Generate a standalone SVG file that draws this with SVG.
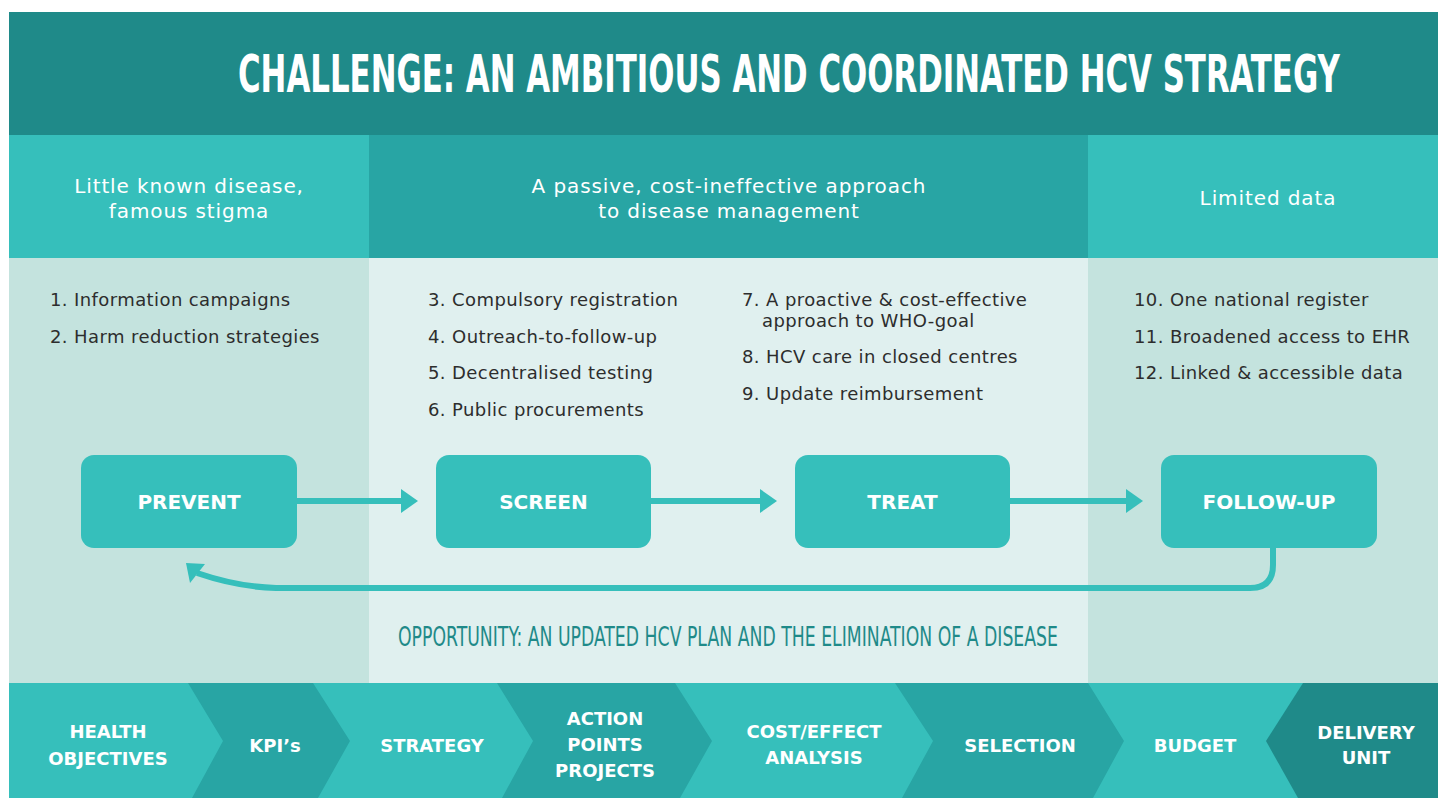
<svg xmlns="http://www.w3.org/2000/svg" width="1438" height="798" viewBox="0 0 1438 798">
<style>
.hdr{font-family:"DejaVu Sans",sans-serif;font-size:20px;fill:#ffffff;text-anchor:middle;letter-spacing:0.9px}
.item{font-family:"DejaVu Sans",sans-serif;font-size:18px;fill:#2d2d2d;letter-spacing:0.4px}
.box{fill:#36bfbb}
.blbl{font-family:"DejaVu Sans",sans-serif;font-weight:bold;font-size:20px;fill:#ffffff;text-anchor:middle}
.clbl{font-family:"DejaVu Sans",sans-serif;font-weight:bold;font-size:18px;fill:#ffffff;text-anchor:middle}
.conn{fill:none;stroke:#36bfbb;stroke-width:6}
.head{fill:#36bfbb}
</style>
<rect x="0" y="0" width="1438" height="798" fill="#ffffff"/>
<!-- title band -->
<g id="title">
<rect x="9" y="12" width="1429" height="123" fill="#1f8a89"/>
<text transform="translate(238,92) scale(0.7,1)" x="0" y="0" font-family="'DejaVu Sans Condensed','DejaVu Sans',sans-serif" font-stretch="condensed" font-weight="bold" font-size="51" fill="#ffffff" textLength="1574" lengthAdjust="spacingAndGlyphs">CHALLENGE: AN AMBITIOUS AND COORDINATED HCV STRATEGY</text>
</g>
<!-- header row -->
<g id="headers">
<rect x="9" y="135" width="360" height="123" fill="#36bfbb"/>
<rect x="369" y="135" width="719" height="123" fill="#28a5a4"/>
<rect x="1088" y="135" width="350" height="123" fill="#36bfbb"/>
<text class="hdr" x="189" y="193">Little known disease,</text>
<text class="hdr" x="189" y="218">famous stigma</text>
<text class="hdr" x="729" y="193">A passive, cost-ineffective approach</text>
<text class="hdr" x="729" y="218">to disease management</text>
<text class="hdr" x="1268" y="205">Limited data</text>
</g>
<!-- body columns -->
<g id="body">
<rect x="9" y="258" width="360" height="425" fill="#c4e3de"/>
<rect x="369" y="258" width="719" height="425" fill="#e0f0ef"/>
<rect x="1088" y="258" width="350" height="425" fill="#c4e3de"/>
</g>
<g id="list-prevent">
<text class="item" x="50" y="306">1. Information campaigns</text>
<text class="item" x="50" y="343">2. Harm reduction strategies</text>
</g>
<g id="list-screen">
<text class="item" x="428" y="306">3. Compulsory registration</text>
<text class="item" x="428" y="343">4. Outreach-to-follow-up</text>
<text class="item" x="428" y="379">5. Decentralised testing</text>
<text class="item" x="428" y="416">6. Public procurements</text>
</g>
<g id="list-treat">
<text class="item" x="742" y="306">7. A proactive &amp; cost-effective</text>
<text class="item" x="762" y="327">approach to WHO-goal</text>
<text class="item" x="742" y="363">8. HCV care in closed centres</text>
<text class="item" x="742" y="400">9. Update reimbursement</text>
</g>
<g id="list-followup">
<text class="item" x="1134" y="306">10. One national register</text>
<text class="item" x="1134" y="343">11. Broadened access to EHR</text>
<text class="item" x="1134" y="379">12. Linked &amp; accessible data</text>
</g>
<!-- connectors -->
<g id="connectors">
<line class="conn" x1="297" y1="501" x2="403" y2="501"/>
<polygon class="head" points="401,489 418,501 401,513"/>
<line class="conn" x1="651" y1="501" x2="762" y2="501"/>
<polygon class="head" points="760,489 777,501 760,513"/>
<line class="conn" x1="1010" y1="501" x2="1128" y2="501"/>
<polygon class="head" points="1126,489 1143,501 1126,513"/>
<path class="conn" d="M1273,547 L1273,565 Q1273,588 1250,588 L276,588 Q238,587 197,573"/>
<polygon class="head" points="186,563 205,564 190,583"/>
</g>
<!-- nodes -->
<g id="node-prevent">
<rect class="box" x="81" y="455" width="216" height="93" rx="13"/>
<text class="blbl" x="189" y="509">PREVENT</text>
</g>
<g id="node-screen">
<rect class="box" x="436" y="455" width="215" height="93" rx="13"/>
<text class="blbl" x="543.5" y="509">SCREEN</text>
</g>
<g id="node-treat">
<rect class="box" x="795" y="455" width="215" height="93" rx="13"/>
<text class="blbl" x="902.5" y="509">TREAT</text>
</g>
<g id="node-followup">
<rect class="box" x="1161" y="455" width="216" height="93" rx="13"/>
<text class="blbl" x="1269" y="509">FOLLOW-UP</text>
</g>
<g id="opportunity">
<text x="398" y="646" font-family="'DejaVu Sans Condensed','DejaVu Sans',sans-serif" font-stretch="condensed" font-size="26" fill="#1f8a89" textLength="660" lengthAdjust="spacingAndGlyphs">OPPORTUNITY: AN UPDATED HCV PLAN AND THE ELIMINATION OF A DISEASE</text>
</g>
<!-- bottom chevron band -->
<g id="chevrons">
<rect x="9" y="683" width="1429" height="115" fill="#36bfbb"/>
<polygon points="188,683 313,683 350,741 318,798 192,798 223,741" fill="#28a5a4"/>
<polygon points="497,683 675,683 712,741 680,798 502,798 533,741" fill="#28a5a4"/>
<polygon points="895,683 1088,683 1124,741 1093,798 902,798 933,741" fill="#28a5a4"/>
<polygon points="1303,683 1438,683 1438,798 1298,798 1266,741" fill="#1f8a89"/>
</g>
<g id="step-health">
<text class="clbl" x="108" y="738">HEALTH</text>
<text class="clbl" x="108" y="765">OBJECTIVES</text>
</g>
<g id="step-kpi"><text class="clbl" x="275" y="752">KPI’s</text></g>
<g id="step-strategy"><text class="clbl" x="432" y="752">STRATEGY</text></g>
<g id="step-action">
<text class="clbl" x="605" y="725">ACTION</text>
<text class="clbl" x="605" y="751">POINTS</text>
<text class="clbl" x="605" y="777">PROJECTS</text>
</g>
<g id="step-cost">
<text class="clbl" x="814" y="738">COST/EFFECT</text>
<text class="clbl" x="814" y="764">ANALYSIS</text>
</g>
<g id="step-selection"><text class="clbl" x="1020" y="752">SELECTION</text></g>
<g id="step-budget"><text class="clbl" x="1195" y="752">BUDGET</text></g>
<g id="step-delivery">
<text class="clbl" x="1366" y="739">DELIVERY</text>
<text class="clbl" x="1366" y="764">UNIT</text>
</g>
</svg>
